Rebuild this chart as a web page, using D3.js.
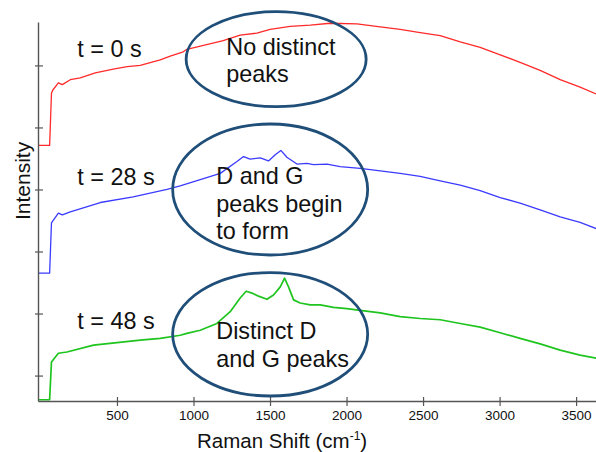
<!DOCTYPE html>
<html>
<head>
<meta charset="utf-8">
<script src="https://cdn.jsdelivr.net/npm/d3@7"></script>
<style>
  body { margin: 0; background: #fff; }
  svg text { font-family: "Liberation Sans", Arial, sans-serif; fill: #111; }
</style>
</head>
<body>
<div id="chart"></div>
<script>
// Raman spectra at three times, offset vertically (arbitrary intensity units)

const xTicks = [500, 1000, 1500, 2000, 2500, 3000, 3500]
const yTicks = [0, 1, 2, 3, 4, 5]

// [Raman shift (cm-1), intensity]
const spectrum0 = [
  [-16, 3.71], [60, 3.71], [72, 4.55], [80, 4.60], [117, 4.72], [143, 4.69], [195, 4.77],
  [260, 4.80], [358, 4.88], [476, 4.94], [567, 4.98], [652, 5.00], [783, 5.09], [848, 5.15],
  [933, 5.22], [957, 5.26], [1194, 5.40], [1305, 5.49], [1414, 5.52], [1501, 5.58],
  [1632, 5.63], [1763, 5.65], [1893, 5.68], [2068, 5.67], [2220, 5.62], [2350, 5.58],
  [2481, 5.53], [2612, 5.48], [2743, 5.38], [2873, 5.29], [3004, 5.17], [3134, 5.05],
  [3265, 4.92], [3396, 4.77], [3526, 4.65], [3631, 4.54]
]
const spectrum28 = [
  [-16, 1.65], [60, 1.65], [72, 2.46], [117, 2.62], [143, 2.59], [195, 2.64], [391, 2.79],
  [606, 2.88], [827, 3.00], [913, 3.06], [1044, 3.16], [1175, 3.26], [1284, 3.45],
  [1327, 3.53], [1370, 3.49], [1436, 3.51], [1490, 3.46], [1534, 3.56], [1571, 3.63],
  [1610, 3.52], [1676, 3.41], [1741, 3.42], [1784, 3.40], [1872, 3.41], [1958, 3.37],
  [2089, 3.34], [2220, 3.30], [2350, 3.26], [2481, 3.21], [2612, 3.14], [2743, 3.07],
  [2873, 2.98], [3004, 2.87], [3134, 2.78], [3265, 2.67], [3396, 2.56], [3526, 2.47],
  [3631, 2.37]
]
const spectrum48 = [
  [-16, -0.39], [60, -0.39], [72, 0.22], [117, 0.36], [173, 0.38], [347, 0.49], [500, 0.53],
  [652, 0.57], [783, 0.60], [913, 0.65], [957, 0.68], [1044, 0.73], [1153, 0.84],
  [1240, 1.03], [1305, 1.25], [1344, 1.36], [1382, 1.33], [1425, 1.28], [1480, 1.23],
  [1523, 1.30], [1567, 1.43], [1595, 1.57], [1621, 1.43], [1654, 1.22], [1697, 1.17],
  [1763, 1.14], [1828, 1.14], [1915, 1.10], [2002, 1.08], [2089, 1.05], [2220, 1.01],
  [2350, 0.95], [2481, 0.92], [2612, 0.90], [2743, 0.84], [2873, 0.78], [3004, 0.69],
  [3134, 0.60], [3265, 0.51], [3396, 0.41], [3526, 0.33], [3631, 0.28]
]

const seriesNames = ['t = 0 s', 't = 28 s', 't = 48 s']
const noteLines = [['No distinct', 'peaks'], ['D and G', 'peaks begin', 'to form'], ['Distinct D', 'and G peaks']]

let margin = {top: 22, right: 0, bottom: 51, left: 38},
    width = 596 - margin.left - margin.right,
    height = 452 - margin.top - margin.bottom

const svg = d3.select('#chart').append('svg')
    .attr('width', 596)
    .attr('height', 452)

const g = svg.append('g')
    .attr('transform', `translate(${margin.left}, ${margin.top})`)

let xScale = d3.scaleLinear().domain([-16, 3630]).range([0, width])
let yScale = d3.scaleLinear().domain([-0.41, 5.70]).range([height, 0])

// curves
const lines = [
  {data: spectrum0, color: '#ff2a2a', w: 1.3},
  {data: spectrum28, color: '#3b3bff', w: 1.3},
  {data: spectrum48, color: '#1fc41f', w: 1.7}
]
const line = d3.line()
    .x(d => xScale(d[0]))
    .y(d => yScale(d[1]))

g.selectAll('path.spec')
  .data(lines)
  .enter()
  .append('path')
    .attr('class', 'spec')
    .attr('d', d => line(d.data))
    .attr('fill', 'none')
    .attr('stroke', d => d.color)
    .attr('stroke-width', d => d.w)
    .attr('stroke-linejoin', 'round')

// X axis
const xAxis = g.append('g')
    .attr('transform', `translate(0, ${height})`)
    .call(d3.axisBottom(xScale).tickValues(xTicks).tickFormat(d3.format('d')).tickSizeOuter(0).tickSize(0))
xAxis.select('.domain').attr('stroke', '#555').attr('stroke-width', 1.4)
xAxis.selectAll('.tick line').attr('y1', -4).attr('y2', 5).attr('stroke', '#555').attr('stroke-width', 1.2)
xAxis.selectAll('.tick text')
    .attr('y', 9)
    .attr('dy', '0.71em')
    .style('font-size', '13.5px')
    .attr('fill', '#222')

// Y axis
const yAxis = g.append('g')
    .call(d3.axisLeft(yScale).tickValues(yTicks).tickSizeOuter(0).tickSize(0).tickFormat(''))
yAxis.select('.domain').attr('stroke', '#555').attr('stroke-width', 1.4)
yAxis.selectAll('.tick line').attr('x1', -3).attr('x2', 5).attr('stroke', '#555').attr('stroke-width', 1.2)

// axis titles
const xTitle = svg.append('text')
    .attr('x', 197)
    .attr('y', 448)
    .style('font-size', '20.5px')
xTitle.append('tspan').text('Raman Shift (cm')
xTitle.append('tspan').text('-1').style('font-size', '12px').attr('dy', -8)
xTitle.append('tspan').text(')').attr('dy', 8)

svg.append('text')
    .attr('transform', 'translate(30, 220) rotate(-90)')
    .style('font-size', '21px')
    .text('Intensity')

// series labels, in data coords
const labelPos = [[241, 5.13], [241, 3.07], [241, 0.745]]
g.selectAll('text.series')
  .data(seriesNames)
  .enter()
  .append('text')
    .attr('class', 'series')
    .attr('x', (d, i) => xScale(labelPos[i][0]))
    .attr('y', (d, i) => yScale(labelPos[i][1]))
    .style('font-size', '23.4px')
    .text(d => d)

// ellipses and notes
const ellipses = [
  {cx: 1540, cy: 5.10, rx: 90, ry: 47.5},
  {cx: 1501, cy: 3.00, rx: 97.5, ry: 65.5},
  {cx: 1501, cy: 0.665, rx: 97.5, ry: 61.7}
]
const notePos = [[1214, 5.17], [1149, 3.084], [1149, 0.584]]

g.selectAll('ellipse')
  .data(ellipses)
  .enter()
  .append('ellipse')
    .attr('cx', d => xScale(d.cx))
    .attr('cy', d => yScale(d.cy))
    .attr('rx', d => d.rx)
    .attr('ry', d => d.ry)
    .attr('fill', 'none')
    .attr('stroke', '#1f4e79')
    .attr('stroke-width', 2.8)

noteLines.forEach(function(lines, i) {
  const t = g.append('text')
      .attr('x', xScale(notePos[i][0]))
      .attr('y', yScale(notePos[i][1]))
      .style('font-size', '23.4px')
  lines.forEach(function(s, j) {
    t.append('tspan')
      .attr('x', xScale(notePos[i][0]))
      .attr('dy', j === 0 ? 0 : 27.3)
      .text(s)
  })
})
</script>
</body>
</html>
